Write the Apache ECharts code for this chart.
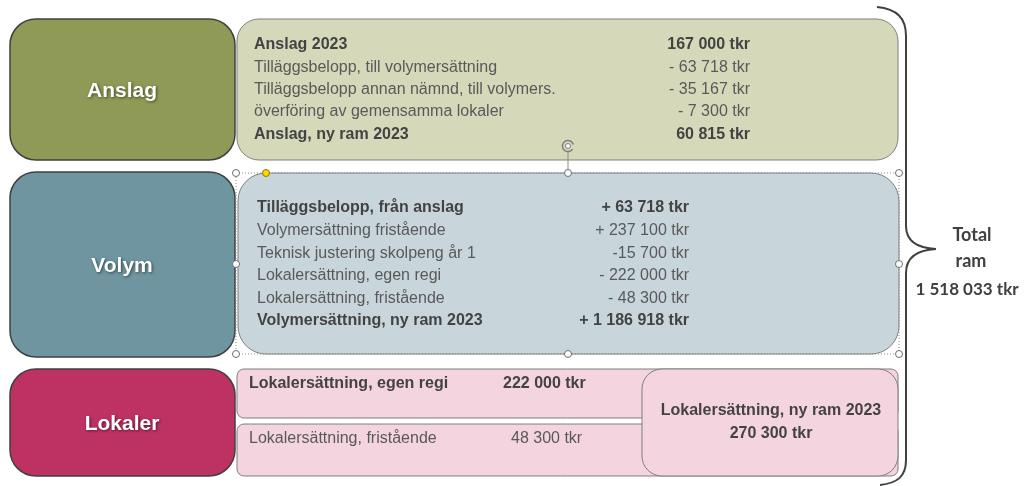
<!DOCTYPE html>
<html>
<head>
<meta charset="utf-8">
<script src="https://cdn.jsdelivr.net/npm/echarts@6/dist/echarts.min.js"></script>
<style>
  html, body { margin: 0; padding: 0; background: #fff; }
  #main { width: 1029px; height: 486px; }
</style>
</head>
<body>
<div id="main"></div>
<script>
  // rader och belopp
  const anslagLabels = ['Anslag 2023', 'Tilläggsbelopp, till volymersättning', 'Tilläggsbelopp annan nämnd, till volymers.', 'överföring av gemensamma lokaler', 'Anslag, ny ram 2023']
  const anslagValues = ['167 000 tkr', '- 63 718 tkr', '- 35 167 tkr', '- 7 300 tkr', '60 815 tkr']
  const anslagBold = [true, false, false, false, true]

  const volymLabels = ['Tilläggsbelopp, från anslag', 'Volymersättning fristående', 'Teknisk justering skolpeng år 1', 'Lokalersättning, egen regi', 'Lokalersättning, fristående', 'Volymersättning, ny ram 2023']
  const volymValues = ['+ 63 718 tkr', '+ 237 100 tkr', '-15 700 tkr', '- 222 000 tkr', '- 48 300 tkr', '+ 1 186 918 tkr']
  const volymBold = [true, false, false, false, false, true]

  const lokalerLabels = ['Lokalersättning, egen regi', 'Lokalersättning, fristående']
  const lokalerValues = ['222 000 tkr', '48 300 tkr']
  const lokalerBold = [true, false]
  const lokalerTotal = ['Lokalersättning, ny ram 2023', '270 300 tkr']

  const groupNames = ['Anslag', 'Volym', 'Lokaler']
  const totalText = ['Total', 'ram', '1 518 033 tkr']

  const font = '"Liberation Sans", Arial, sans-serif'
  const els = []

  function box(x, y, w, h, r, fill, stroke, lw) {
    els.push({
      type: 'rect',
      shape: { x: x, y: y, width: w, height: h, r: r },
      style: { fill: fill, stroke: stroke, lineWidth: lw }
    })
  }
  function txt(x, y, s, opts) {
    els.push({
      type: 'text',
      x: x, y: y,
      style: Object.assign({
        text: s, font: (opts.bold ? 'bold ' : '') + (opts.size || 16) + 'px ' + (opts.family || font),
        fill: opts.color || (opts.bold ? '#434343' : '#595959'),
        textAlign: opts.align || 'left', textVerticalAlign: 'middle'
      }, opts.extra || {})
    })
  }
  function curve(p0, c1, c2, p1) {
    els.push({
      type: 'bezierCurve',
      shape: { x1: p0[0], y1: p0[1], cpx1: c1[0], cpy1: c1[1], cpx2: c2[0], cpy2: c2[1], x2: p1[0], y2: p1[1] },
      style: { fill: null, stroke: '#404040', lineWidth: 2 }
    })
  }
  function seg(p0, p1, stroke, lw) {
    els.push({
      type: 'line',
      shape: { x1: p0[0], y1: p0[1], x2: p1[0], y2: p1[1] },
      style: { stroke: stroke, lineWidth: lw }
    })
  }

  // höger rutor
  box(237, 19, 661, 141, 22, '#d5d9ba', '#7f7f7f', 1)
  box(238, 173, 661, 181, 28, '#c8d6db', '#7f7f7f', 1)
  box(237, 369, 661, 49, 7, '#f4d4df', '#7f7f7f', 1)
  box(237, 424, 661, 52, 7, '#f4d4df', '#7f7f7f', 1)
  box(642, 369, 256, 107, 20, '#f4d4df', '#7f7f7f', 1)

  // vänster rutor
  const leftY = [[19, 141], [172, 185], [369, 107]]
  const leftFill = ['#8f9a56', '#6f96a0', '#be3263']
  groupNames.forEach(function (n, i) {
    box(10, leftY[i][0], 225, leftY[i][1], 26, leftFill[i], '#404040', 1.5)
    txt(122, leftY[i][0] + leftY[i][1] / 2 + 1.5, n, {
      bold: true, size: 21, color: '#fff', align: 'center',
      extra: { textShadowColor: 'rgba(0,0,0,0.55)', textShadowBlur: 3, textShadowOffsetX: 1, textShadowOffsetY: 1.5 }
    })
  })

  // anslag
  anslagLabels.forEach(function (s, i) {
    txt(254, 45 + i * 22.3, s, { bold: anslagBold[i] })
    txt(750, 45 + i * 22.3, anslagValues[i], { bold: anslagBold[i], align: 'right' })
  })

  // volym
  volymLabels.forEach(function (s, i) {
    txt(257, 208 + i * 22.6, s, { bold: volymBold[i] })
    txt(689, 208 + i * 22.6, volymValues[i], { bold: volymBold[i], align: 'right' })
  })

  // lokaler
  const lokY = [384, 439]
  const lokValX = [503, 511]
  lokalerLabels.forEach(function (s, i) {
    txt(249, lokY[i], s, { bold: lokalerBold[i] })
    txt(lokValX[i], lokY[i], lokalerValues[i], { bold: lokalerBold[i] })
  })
  lokalerTotal.forEach(function (s, i) {
    txt(771, 411 + i * 23, s, { bold: true, align: 'center' })
  })

  // markering (PowerPoint-handtag)
  els.push({
    type: 'rect',
    shape: { x: 236, y: 173, width: 663, height: 181 },
    style: { fill: null, stroke: '#8c8c8c', lineWidth: 1, lineDash: [1, 2] }
  })
  seg([568, 152], [568, 173], '#8c8c8c', 1)
  els.push({ type: 'arc', shape: { cx: 568, cy: 146, r: 5.5, startAngle: 0.6, endAngle: 6.0 }, style: { stroke: '#7f7f7f', lineWidth: 1.5, fill: null } })
  els.push({ type: 'circle', shape: { cx: 568, cy: 146, r: 2.5 }, style: { stroke: '#7f7f7f', lineWidth: 1, fill: '#fff' } })
  const handles = [[236, 173], [568, 173], [899, 173], [236, 264], [899, 264], [236, 354], [568, 354], [899, 354]]
  handles.forEach(function (p) {
    els.push({ type: 'circle', shape: { cx: p[0], cy: p[1], r: 3.5 }, style: { fill: '#fff', stroke: '#6e6e6e', lineWidth: 1 } })
  })
  els.push({ type: 'circle', shape: { cx: 266, cy: 173, r: 3.5 }, style: { fill: '#ffd700', stroke: '#8a7a00', lineWidth: 1 } })

  // klammer
  curve([877, 7], [897, 9], [906, 18], [906, 36])
  seg([906, 36], [906, 226], '#404040', 2)
  curve([906, 226], [906, 240], [916, 248], [936, 249])
  curve([936, 249], [916, 250], [906, 258], [906, 273])
  seg([906, 273], [906, 460], '#404040', 2)
  curve([906, 460], [906, 477], [897, 483], [880, 485])

  // total
  const totalY = [235, 261, 290]
  const totalX = [972, 971, 967]
  const totalSize = [18, 18, 17]
  totalText.forEach(function (s, i) {
    txt(totalX[i], totalY[i], s, { bold: true, size: totalSize[i], family: 'Lato, "Open Sans", sans-serif', color: '#404040', align: 'center' })
  })

  const chart = echarts.init(document.getElementById('main'), null, { renderer: 'canvas' })
  chart.setOption({
    animation: false,
    backgroundColor: '#fff',
    graphic: { elements: els }
  })
  window.onresize = function () {
    chart.resize()
  }
</script>
</body>
</html>
